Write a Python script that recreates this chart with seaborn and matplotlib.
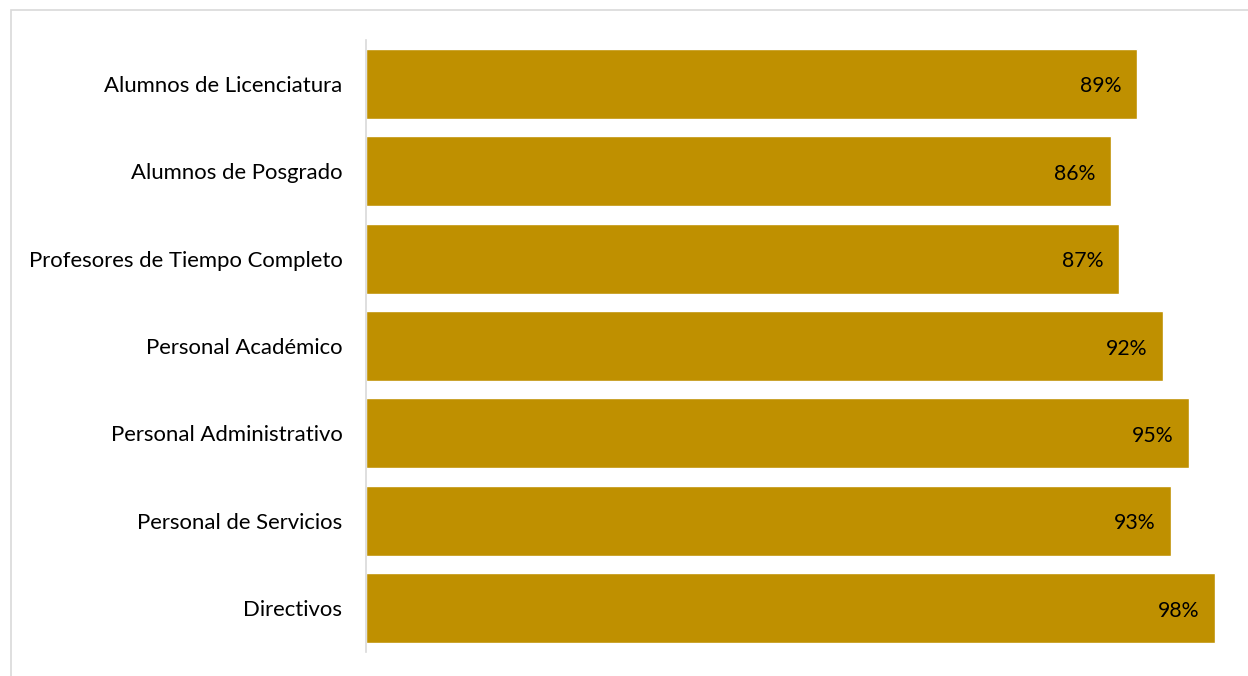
import matplotlib
matplotlib.use("Agg")
import matplotlib.pyplot as plt
import seaborn as sns
import pandas as pd
from matplotlib.patches import Rectangle

categories = ["Alumnos de Licenciatura", "Alumnos de Posgrado", "Profesores de Tiempo Completo",
              "Personal Académico", "Personal Administrativo", "Personal de Servicios", "Directivos"]
values = [0.89, 0.86, 0.87, 0.92, 0.95, 0.93, 0.98]

df = pd.DataFrame({"cat": categories, "val": values})

sns.set_theme(style="white")
plt.rcParams['font.family'] = ['Lato', 'DejaVu Sans']

W, H = 1248, 676
fig = plt.figure(figsize=(W/100, H/100), dpi=100)
ax = fig.add_axes([366/W, (H-652)/H, 866/W, 612/H])

sns.barplot(data=df, y="cat", x="val", orient="h", color="#BF9000", saturation=1,
            width=0.8, ax=ax)

ax.set_xlim(0, 1.0)
ax.set_xlabel("")
ax.set_ylabel("")
ax.set_xticks([])
for s in ["top", "right", "bottom"]:
    ax.spines[s].set_visible(False)
ax.spines["left"].set_color("#D9D9D9")
ax.spines["left"].set_linewidth(1.2)
ax.tick_params(axis="y", length=0, pad=17, labelsize=15.9, labelcolor="black")

for i, v in enumerate(values):
    ax.text(v - 0.018, i + 0.03, f"{round(v*100)}%", ha="right", va="center",
            fontsize=15.3, color="black")

fig.patches.append(Rectangle((11/W, -0.1), 1.2, (H-10)/H + 0.1, transform=fig.transFigure,
                             fill=False, edgecolor="#D9D9D9", linewidth=1.2, zorder=0))

fig.savefig("out.png", dpi=100)
